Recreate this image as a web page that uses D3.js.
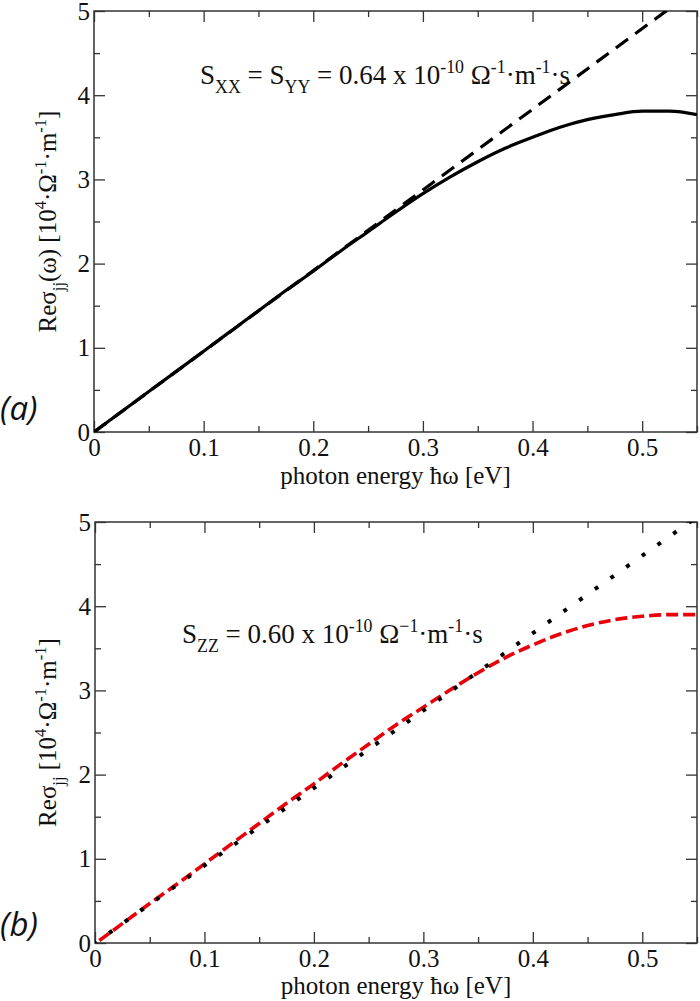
<!DOCTYPE html>
<html><head><meta charset="utf-8">
<script src="https://cdn.jsdelivr.net/npm/d3@7"></script>
<style>
html,body{margin:0;padding:0;background:#fff;}
svg text{font-family:"Liberation Serif","Times New Roman",serif;fill:#111;}
</style></head>
<body><svg id="c" width="700" height="1001"></svg>
<script>
// ---------- data ----------
const xTicksMajor = [0, 0.1, 0.2, 0.3, 0.4, 0.5];
const xTicksMinor = [0.05, 0.15, 0.25, 0.35, 0.45, 0.55];
const yTicksMajor = [0, 1, 2, 3, 4, 5];
const yTicksMinor = [0.5, 1.5, 2.5, 3.5, 4.5];

// panel (a)
const aSolidX = [0,0.025,0.05,0.075,0.1,0.125,0.15,0.175,0.2,0.225,0.25,0.275,0.3,0.325,0.35,0.375,0.4,0.425,0.45,0.475,0.5,0.525,0.55];
const aSolidY = [0,0.24,0.48,0.72,0.96,1.20,1.44,1.68,1.91,2.15,2.38,2.61,2.83,3.03,3.21,3.37,3.50,3.62,3.71,3.77,3.81,3.81,3.77];
const aDashX = [0, 0.55];
const aDashY = [0, 5.27];

// panel (b)
const bRedX = [0.004,0.025,0.05,0.075,0.1,0.125,0.15,0.175,0.2,0.225,0.25,0.275,0.3,0.325,0.35,0.375,0.4,0.425,0.45,0.475,0.5,0.525,0.55];
const bRedY = [0.03,0.23,0.47,0.70,0.94,1.18,1.42,1.66,1.89,2.13,2.36,2.59,2.80,3.01,3.21,3.39,3.54,3.67,3.77,3.84,3.88,3.90,3.90];
const bDotX = [0, 0.55];
const bDotY = [0, 5.06];

const panels = [
  {id:"a", x0:94, x1:697, y0:432, y1:11,
   ylabel:[["Reσ","n"],["jj","sub"],["(ω) [10","n"],["4","sup"],["·Ω","n"],["-1","sup"],["·m","n"],["-1","sup"],["]","n"]],
   note:[["S","n"],["XX","sub"],[" = S","n"],["YY","sub"],[" = 0.64 x 10","n"],["-10","sup"],[" Ω","n"],["-1","sup"],["·m","n"],["-1","sup"],["·s","n"]],
   noteX:200, noteY:84, tag:"(a)", tagY:420, titleY:484},
  {id:"b", x0:95, x1:697, y0:943, y1:522,
   ylabel:[["Reσ","n"],["jj","sub"],[" [10","n"],["4","sup"],["·Ω","n"],["-1","sup"],["·m","n"],["-1","sup"],["]","n"]],
   note:[["S","n"],["ZZ","sub"],[" = 0.60 x 10","n"],["-10","sup"],[" Ω","n"],["−1","sup"],["·m","n"],["-1","sup"],["·s","n"]],
   noteX:182, noteY:643, tag:"(b)", tagY:936, titleY:994}
];

const FS = 25;
const svg = d3.select("#c");

function rich(sel, parts, size){
  let shift = 0;
  parts.forEach(([t,m])=>{
    let target = m==="sub" ? size*0.32 : m==="sup" ? -size*0.42 : 0;
    sel.append("tspan").attr("dy", target - shift)
      .style("font-size", (m==="n"? size : size*0.66)+"px").text(t);
    shift = target;
  });
}

panels.forEach(p=>{
  const x = d3.scaleLinear().domain([0,0.55]).range([p.x0,p.x1]);
  const y = d3.scaleLinear().domain([0,5]).range([p.y0,p.y1]);
  const g = svg.append("g");

  const clipId = "clip"+p.id;
  svg.append("clipPath").attr("id",clipId).append("rect")
    .attr("x",p.x0).attr("y",p.y1).attr("width",p.x1-p.x0).attr("height",p.y0-p.y1);

  const axStyle = s=>{ s.select(".domain").remove(); s.selectAll("line").attr("stroke","#333").attr("stroke-width",1.3); s.selectAll("text").style("font-size",FS+"px").style("font-family","'Liberation Serif',serif").attr("fill","#111"); };

  g.append("g").attr("transform",`translate(0,${p.y0})`)
    .call(d3.axisBottom(x).tickValues(xTicksMajor).tickSize(-11).tickPadding(6).tickFormat(d=>d===0?"0":d3.format(".1f")(d))).call(axStyle);
  g.append("g").attr("transform",`translate(0,${p.y0})`)
    .call(d3.axisBottom(x).tickValues(xTicksMinor).tickSize(-6).tickFormat("")).call(axStyle);
  g.append("g").attr("transform",`translate(0,${p.y1})`)
    .call(d3.axisTop(x).tickValues(xTicksMajor).tickSize(-11).tickFormat("")).call(axStyle);
  g.append("g").attr("transform",`translate(0,${p.y1})`)
    .call(d3.axisTop(x).tickValues(xTicksMinor).tickSize(-6).tickFormat("")).call(axStyle);
  g.append("g").attr("transform",`translate(${p.x0},0)`)
    .call(d3.axisLeft(y).tickValues(yTicksMajor).tickSize(-11).tickPadding(4).tickFormat(d3.format("d"))).call(axStyle);
  g.append("g").attr("transform",`translate(${p.x0},0)`)
    .call(d3.axisLeft(y).tickValues(yTicksMinor).tickSize(-6).tickFormat("")).call(axStyle);
  g.append("g").attr("transform",`translate(${p.x1},0)`)
    .call(d3.axisRight(y).tickValues(yTicksMajor).tickSize(-11).tickFormat("")).call(axStyle);
  g.append("g").attr("transform",`translate(${p.x1},0)`)
    .call(d3.axisRight(y).tickValues(yTicksMinor).tickSize(-6).tickFormat("")).call(axStyle);

  g.append("rect").attr("x",p.x0).attr("y",p.y1).attr("width",p.x1-p.x0).attr("height",p.y0-p.y1)
    .attr("fill","none").attr("stroke","#333").attr("stroke-width",1.5);

  const line = d3.line().x(d=>x(d[0])).y(d=>y(d[1])).curve(d3.curveMonotoneX);
  const plot = g.append("g").attr("clip-path",`url(#${clipId})`);

  if(p.id==="a"){
    plot.append("path").datum(aDashX.map((v,i)=>[v,aDashY[i]])).attr("d",line)
      .attr("fill","none").attr("stroke","#000").attr("stroke-width",3.2).attr("stroke-dasharray","15 9");
    plot.append("path").datum(aSolidX.map((v,i)=>[v,aSolidY[i]])).attr("d",line)
      .attr("fill","none").attr("stroke","#000").attr("stroke-width",3.2);
  } else {
    plot.append("path").datum(bRedX.map((v,i)=>[v,bRedY[i]])).attr("d",line)
      .attr("fill","none").attr("stroke","#e8000b").attr("stroke-width",3.6).attr("stroke-dasharray","12 5");
    plot.append("path").datum(bDotX.map((v,i)=>[v,bDotY[i]])).attr("d",line)
      .attr("fill","none").attr("stroke","#000").attr("stroke-width",4).attr("stroke-dasharray","4 15.2")
      .attr("stroke-dashoffset",2);
  }

  // x label
  g.append("text").attr("x",(p.x0+p.x1)/2).attr("y",p.titleY).attr("text-anchor","middle")
    .style("font-size",FS+"px").text("photon energy ħω [eV]");
  // y label
  const yl = g.append("text").attr("transform",`translate(56,${(p.y0+p.y1)/2}) rotate(-90)`)
    .attr("text-anchor","middle").style("font-size",FS+"px");
  rich(yl, p.ylabel, FS);
  // annotation
  const nt = g.append("text").attr("x",p.noteX).attr("y",p.noteY).style("font-size","27px");
  rich(nt, p.note, 27);
  // panel tag
  g.append("text").attr("x",0).attr("y",p.tagY).text(p.tag)
    .style("font-family","'Open Sans',sans-serif").style("font-style","italic").style("font-size","33px").attr("fill","#222");
});
</script></body></html>
